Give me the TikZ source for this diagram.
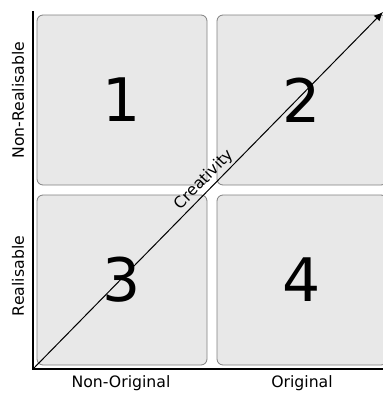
\documentclass[tikz,border=0pt]{standalone}
\usepackage{fontspec}
\setmainfont{DejaVu Sans}
\usetikzlibrary{arrows.meta,positioning}

\begin{document}
\begin{tikzpicture}[
  x=1pt, y=-1pt,
  quad/.style={rectangle, draw=black!50, fill=black!9, rounded corners=6pt, line width=0.8pt,
    minimum width=170pt, minimum height=170pt, inner sep=0pt, font=\fontsize{60}{60}\selectfont},
  axis/.style={line width=2pt},
  arrow/.style={-{Latex[length=9pt,width=8pt]}, line width=1pt},
  label/.style={font=\fontsize{15.7}{16}\selectfont}
]
\useasboundingbox (0,0) rectangle (383,394);
\clip (0,0) rectangle (383,394);

% Quadrants
\node[quad] (q1) at (122,100) {1};
\node[quad] (q2) at (302,100) {2};
\node[quad] (q3) at (122,280) {3};
\node[quad] (q4) at (302,280) {4};

% Axes
\coordinate (origin) at (33,369);
\coordinate (ytop) at (33,11);
\coordinate (xend) at (383,369);
\coordinate (tip) at (383,12);
\draw[axis] (ytop) -- (origin) -- (xend);

% Axis labels
\node[label, rotate=90] (nr) at (18,100) {Non-Realisable};
\node[label, rotate=90] (re) at (18,276) {Realisable};
\node[label] (no) at (121,383) {Non-Original};
\node[label] (or) at (302,383) {Original};

% Diagonal
\draw[arrow] (origin) -- (tip)
  node[pos=0.51, sloped, above, label, inner sep=2pt] (cr) {Creativity};

\end{tikzpicture}
\end{document}
